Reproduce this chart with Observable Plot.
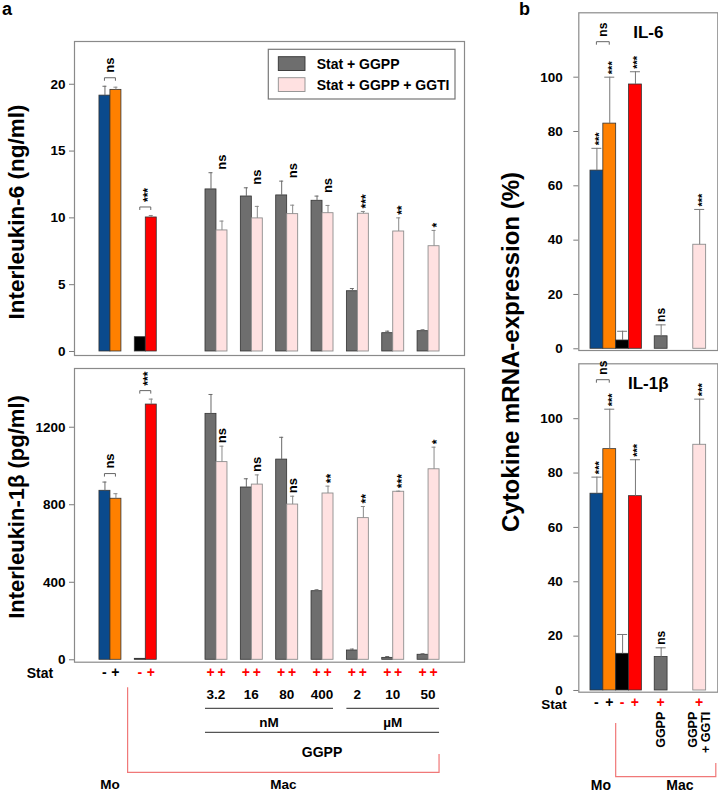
<!DOCTYPE html>
<html>
<head>
<meta charset="utf-8">
<script src="https://cdn.jsdelivr.net/npm/d3@7"></script>
<script src="https://cdn.jsdelivr.net/npm/@observablehq/plot@0.6"></script>
<style>
  html, body { margin: 0; padding: 0; background: #fff; }
  #fig { position: relative; width: 718px; height: 793px; overflow: hidden; font-family: "Liberation Sans", Arial, Helvetica, sans-serif; }
  #fig g[aria-label="y-axis"] line, #fig g[aria-label="y-axis tick"] path { stroke: #7a7a7a; }
</style>
</head>
<body>
<div id="fig"></div>
<script>
// ---------------- DATA : panel a ----------------
const aGroups = ["Mo", "Mac", "3.2", "16", "80", "400", "2", "10", "50"];
const aSlots  = ["Mo", "Mac", " ", "3.2", "16", "80", "400", "2", "10", "50"];
const nMGroups = ["3.2", "16", "80", "400"];
const uMGroups = ["2", "10", "50"];
const unitLabels = ["nM", "µM"];
const statFirst  = ["-", "-", "+", "+", "+", "+", "+", "+", "+"];
const statSecond = ["+", "+", "+", "+", "+", "+", "+", "+", "+"];
const legendLabels = ["Stat + GGPP", "Stat + GGPP + GGTI"];

// IL-6 (ng/ml): first bar of pair (Mo -, Mac -, Stat + GGPP), second bar (Mo +, Mac +, Stat + GGPP + GGTI)
const il6A    = [19.15, 1.07, 12.13, 11.60, 11.68, 11.28, 4.51, 1.37, 1.52];
const il6AErr = [0.70, 0.00, 1.25, 0.65, 1.07, 0.35, 0.20, 0.15, 0.10];
const il6B    = [19.58, 10.03, 9.06, 9.96, 10.28, 10.35, 10.31, 8.98, 7.88];
const il6BErr = [0.20, 0.15, 0.70, 0.90, 0.67, 0.58, 0.17, 1.02, 1.18];
const il6Sig  = ["ns", "***", "ns", "ns", "ns", "ns", "***", "**", "*"];

// IL-1β (pg/ml)
const il1A    = [872, 5, 1269, 889, 1033, 354, 48, 10, 26];
const il1AErr = [45, 0, 100, 45, 115, 7, 7, 7, 5];
const il1B    = [831, 1317, 1020, 904, 801, 858, 731, 867, 983];
const il1BErr = [26, 28, 82, 50, 43, 38, 60, 3, 114];
const il1Sig  = ["ns", "***", "ns", "ns", "ns", "**", "**", "***", "*"];

// ---------------- DATA : panel b ----------------
const bBars  = ["Mo-", "Mo+", "Mac-", "Mac+", "GGPP", "GGPP+GGTI"];
const bSlots = ["Mo-", "Mo+", "Mac-", "Mac+", "gap1", "GGPP", "gap2", "gap3", "GGPP+GGTI"];
const bStat  = ["-", "+", "-", "+", "+", "+"];
const bIl6    = [65.6, 82.9, 3.05, 97.3, 4.6, 38.3];
const bIl6Err = [8.2, 17.1, 3.4, 4.7, 4.2, 13.0];
const bIl6Sig = ["***", "***", "", "***", "ns", "***"];
const bIl1    = [72.4, 88.8, 13.5, 71.5, 12.3, 90.4];
const bIl1Err = [6.1, 14.7, 7.1, 13.4, 3.4, 16.8];
const bIl1Sig = ["***", "***", "", "***", "ns", "***"];
const bPairSig = ["ns", "ns"];
const bXLabels = [["GGPP"], ["GGPP", "+ GGTI"]];

const condColors = {"Mo-": "#0a4a8c", "Mo+": "#ff8000", "Mac-": "#000000", "Mac+": "#ff0000", "GGPP": "#6e6e6e", "GGPP+GGTI": "#ffe1e1"};

// ---------------- helpers ----------------
const FONT = '"Liberation Sans", Arial, Helvetica, sans-serif';
const fig = document.getElementById("fig");
const colorScale = {domain: Object.keys(condColors), range: Object.values(condColors)};
const baseStyle = {fontFamily: FONT, fontSize: "13.5px", fontWeight: "bold", color: "#000", background: "transparent", overflow: "visible"};
const RED = "#ff0000", BRACKET_RED = "#f07878";

function place(svg, left, top) {
  svg.style.position = "absolute";
  svg.style.left = left + "px";
  svg.style.top = top + "px";
  fig.appendChild(svg);
  return svg;
}
function scalesOf(plot) {
  const X = plot.scale("x"), Y = plot.scale("y");
  const band = d3.scaleBand(X.domain, X.range)
    .paddingInner(X.paddingInner ?? 0).paddingOuter(X.paddingOuter ?? 0)
    .align(X.align ?? 0.5).round(!!X.round);
  const lin = d3.scaleLinear(Y.domain, Y.range);
  return {
    x: typeof X.apply === "function" ? v => X.apply(v) : v => band(v),
    bw: X.bandwidth ?? band.bandwidth(),
    y: typeof Y.apply === "function" ? v => Y.apply(v) : v => lin(v),
    bottom: Math.max(...Y.range)
  };
}
function addText(g, x, y, str, o = {}) {
  const t = g.append("text").attr("x", x).attr("y", y).text(str)
    .attr("text-anchor", o.anchor ?? "middle")
    .attr("dominant-baseline", "central")
    .attr("font-size", o.size ?? 13.5)
    .attr("font-weight", "bold")
    .attr("fill", o.fill ?? "#000");
  if (o.rotate) t.attr("transform", `rotate(${o.rotate},${x},${y})`);
  return t;
}
function addPath(g, d, stroke, w = 1) {
  g.append("path").attr("d", d).attr("fill", "none").attr("stroke", stroke).attr("stroke-width", w);
}
function sigBracket(g, xa, xb, y, label, size) {
  addPath(g, `M${xa},${y + 3}V${y}H${xb}V${y + 3}`, "#666", 1);
  const star = label.includes("*");
  addText(g, (xa + xb) / 2 + (star ? 3 : 0), y - 5, label, {rotate: -90, anchor: "start", size});
}

// ---------------- panel a ----------------
const A_W = 480, A_ML = 74, A_MR = 16, A_PI = 0.3785, A_PO = 0.706;

function makeRows(A, EA, B, EB, S) {
  return aGroups.map((g, i) => ({
    g, a: A[i], ea: EA[i], b: B[i], eb: EB[i], sig: S[i], sa: statFirst[i], sb: statSecond[i],
    ca: g === "Mo" ? "Mo-" : g === "Mac" ? "Mac-" : "GGPP",
    cb: g === "Mo" ? "Mo+" : g === "Mac" ? "Mac+" : "GGPP+GGTI",
    pair: g === "Mo" || g === "Mac"
  }));
}

function panelA(cfg) {
  const {rows, left, top, height, mt, mb, yDomain, yTicks, refAll, annotate, legend} = cfg;
  const step = (A_W - A_ML - A_MR) / (aSlots.length - A_PI + 2 * A_PO);
  const bw = step * (1 - A_PI), q = bw / 4;
  const errA = rows.filter(d => d.ea > 0), errB = rows.filter(d => d.eb > 0);
  const conc = rows.filter(d => !d.pair);
  const ref = refAll ? d => Math.max(d.a + d.ea, d.b + d.eb) : d => d.b + d.eb;
  const isStar = d => d.sig.includes("*");
  const plot = Plot.plot({
    width: A_W, height, marginLeft: A_ML, marginRight: A_MR, marginTop: mt, marginBottom: mb,
    style: baseStyle,
    x: {type: "band", domain: aSlots, paddingInner: A_PI, paddingOuter: A_PO, round: false, axis: null},
    y: {domain: yDomain, ticks: yTicks, tickSize: 5, tickPadding: 4, tickFormat: d => `${d}`, label: null},
    color: colorScale,
    marks: [
      Plot.barY(rows, {x: "g", y: "a", fill: "ca", stroke: "#333", strokeWidth: 0.8, insetRight: 2 * q}),
      Plot.barY(rows.filter(d => d.pair), {x: "g", y: "b", fill: "cb", stroke: "#333", strokeWidth: 0.8, insetLeft: 2 * q}),
      Plot.barY(conc, {x: "g", y: "b", fill: "cb", stroke: "#8e8e8e", strokeWidth: 0.9, insetLeft: 2 * q}),
      Plot.ruleX(errA, {x: "g", y1: "a", y2: d => d.a + d.ea, dx: -q, stroke: "#6a6a6a"}),
      Plot.tickY(errA, {x: "g", y: d => d.a + d.ea, insetLeft: q - 2, insetRight: 3 * q - 2, stroke: "#6a6a6a"}),
      Plot.ruleX(errB, {x: "g", y1: "b", y2: d => d.b + d.eb, dx: q, stroke: "#8a8a8a"}),
      Plot.tickY(errB, {x: "g", y: d => d.b + d.eb, insetLeft: 3 * q - 2, insetRight: q - 2, stroke: "#8a8a8a"}),
      Plot.text(conc.filter(d => !isStar(d)), {x: "g", y: ref, text: "sig", rotate: -90, textAnchor: "start", lineAnchor: "middle", dx: q, dy: -3, fontSize: 13}),
      Plot.text(conc.filter(isStar), {x: "g", y: ref, text: "sig", rotate: -90, textAnchor: "start", lineAnchor: "middle", dx: q + 3, dy: -3, fontSize: 12}),
      Plot.frame({stroke: "#8a8a8a", strokeWidth: 1.2})
    ]
  });
  place(plot, left, top);
  const s = scalesOf(plot);
  const g = d3.select(plot).append("g").attr("font-family", FONT);
  // significance brackets for the Mo and Mac pairs
  rows.filter(d => d.pair).forEach(d => {
    const x0 = s.x(d.g), yr = s.y(Math.max(d.a + d.ea, d.b + d.eb));
    sigBracket(g, x0 + q, x0 + 3 * q, yr - 8, d.sig, d.sig.includes("*") ? 12 : 13);
  });
  if (legend) {
    const bx = 268.3, by = 49.3;
    g.append("rect").attr("x", bx).attr("y", by).attr("width", 186.7).attr("height", 49.7)
      .attr("fill", "#fff").attr("stroke", "#777").attr("stroke-width", 1.2);
    [["GGPP", "#333"], ["GGPP+GGTI", "#8e8e8e"]].forEach(([c, st], i) => {
      g.append("rect").attr("x", bx + 10).attr("y", by + 7.4 + i * 21).attr("width", 26.7).attr("height", 13.8)
        .attr("fill", condColors[c]).attr("stroke", st).attr("stroke-width", 0.9);
      addText(g, bx + 48.4, by + 15 + i * 20.7, legendLabels[i], {anchor: "start", size: 14});
    });
  }
  if (annotate) {
    const F = s.bottom;
    addText(g, 40, F + 11, "Stat", {size: 14});
    rows.forEach(d => {
      const x0 = s.x(d.g);
      const col = d.g === "Mo" ? "#000" : RED;
      addText(g, x0 + q, F + 10.5, d.sa, {fill: col, size: 14});
      addText(g, x0 + 3 * q, F + 10.5, d.sb, {fill: col, size: 14});
      if (!d.pair) addText(g, x0 + 2 * q, F + 32.3, d.g, {size: 13.5});
    });
    [nMGroups, uMGroups].forEach((grp, i) => {
      const x1 = s.x(grp[0]), x2 = s.x(grp[grp.length - 1]) + s.bw;
      addPath(g, `M${x1},${F + 46.6}H${x2}`, "#555", 1.2);
      addText(g, (x1 + x2) / 2, F + 60.5, unitLabels[i], {size: 13.5});
    });
    const gx1 = s.x(nMGroups[0]), gx2 = s.x(uMGroups[uMGroups.length - 1]) + s.bw;
    addPath(g, `M${gx1},${F + 70.6}H${gx2}`, "#555", 1.2);
    addText(g, (gx1 + gx2) / 2, F + 90, "GGPP", {size: 14});
    const bxL = (s.x("Mo") + s.bw + s.x("Mac")) / 2;
    addPath(g, `M${bxL},${F + 25.6}V${F + 110.6}H${gx2}V${F + 92.3}`, BRACKET_RED, 1.2);
    addText(g, s.x("Mo") + 2 * q, F + 122.5, "Mo", {size: 13.5});
    addText(g, (bxL + gx2) / 2, F + 122.5, "Mac", {size: 13.5});
  }
  return plot;
}

panelA({rows: makeRows(il6A, il6AErr, il6B, il6BErr, il6Sig), left: 0, top: 0, height: 360, mt: 41, mb: 5,
        yDomain: [-0.3, 23.2], yTicks: [0, 5, 10, 15, 20], refAll: true, legend: true});
panelA({rows: makeRows(il1A, il1AErr, il1B, il1BErr, il1Sig), left: 0, top: 360, height: 433, mt: 8, mb: 131.3,
        yDomain: [-12.4, 1503], yTicks: [0, 400, 800, 1200], refAll: false, annotate: true});

// ---------------- panel b ----------------
const B_W = 228, B_ML = 88.3, B_MR = 0.7, B_PO = 0.909;

function panelB(cfg) {
  const {vals, errs, sigs, pairSig, left, top, height, mt, mb, yDomain, title, pairLift, annotate} = cfg;
  const rows = bBars.map((k, i) => ({k, v: vals[i], e: errs[i], sig: sigs[i], st: bStat[i]}));
  const step = (B_W - B_ML - B_MR) / (bSlots.length + 2 * B_PO), h = step / 2;
  const plot = Plot.plot({
    width: B_W, height, marginLeft: B_ML, marginRight: B_MR, marginTop: mt, marginBottom: mb,
    style: baseStyle,
    x: {type: "band", domain: bSlots, paddingInner: 0, paddingOuter: B_PO, round: false, axis: null},
    y: {domain: yDomain, ticks: [0, 20, 40, 60, 80, 100], tickSize: 5, tickPadding: 11, tickFormat: d => `${d}`, label: null},
    color: colorScale,
    marks: [
      Plot.barY(rows.filter(d => d.k !== "GGPP+GGTI"), {x: "k", y: "v", fill: "k", stroke: "#333", strokeWidth: 0.8}),
      Plot.barY(rows.filter(d => d.k === "GGPP+GGTI"), {x: "k", y: "v", fill: "k", stroke: "#8e8e8e", strokeWidth: 0.9}),
      Plot.ruleX(rows, {x: "k", y1: "v", y2: d => d.v + d.e, stroke: "#777"}),
      Plot.tickY(rows, {x: "k", y: d => d.v + d.e, insetLeft: h - 5, insetRight: h - 5, stroke: "#777"}),
      Plot.text(rows.filter(d => d.sig === "ns"), {x: "k", y: d => d.v + d.e, text: "sig", rotate: -90, textAnchor: "start", lineAnchor: "middle", dy: -3, fontSize: 12}),
      Plot.text(rows.filter(d => d.sig.includes("*")), {x: "k", y: d => d.v + d.e, text: "sig", rotate: -90, textAnchor: "start", lineAnchor: "middle", dx: 2.5, dy: -3, fontSize: 11}),
      Plot.text([title], {text: d => d, frameAnchor: "top", dy: 13, fontSize: 17}),
      Plot.frame({stroke: "#8a8a8a", strokeWidth: 1.2})
    ]
  });
  place(plot, left, top);
  const s = scalesOf(plot);
  const g = d3.select(plot).append("g").attr("font-family", FONT);
  const mo = rows.filter(d => d.k === "Mo-" || d.k === "Mo+");
  const yr = s.y(d3.max(mo, d => d.v + d.e));
  sigBracket(g, s.x("Mo-") + h, s.x("Mo+") + h, yr - pairLift, pairSig, 12);
  if (annotate) {
    const F = s.bottom;
    addText(g, 64, F + 12.5, "Stat", {size: 13.5});
    rows.forEach(d => {
      const col = d.k.startsWith("Mo") ? "#000" : RED;
      addText(g, s.x(d.k) + h, F + 10.5, d.st, {fill: col, size: 14});
    });
    [["GGPP", bXLabels[0]], ["GGPP+GGTI", bXLabels[1]]].forEach(([k, lines]) => {
      const cx = s.x(k) + h;
      lines.forEach((ln, j) => {
        const x = cx + (j - (lines.length - 1) / 2) * 13;
        addText(g, x, F + 20, ln, {rotate: -90, anchor: "end", size: 12.5});
      });
    });
    const bxL = s.x("Mac-"), bxR = B_W - B_MR - 1.5;
    addPath(g, `M${bxL},${F + 31.3}V${F + 85}H${bxR}V${F + 71.3}`, BRACKET_RED, 1.2);
    addText(g, s.x("Mo+") - 2, F + 93.5, "Mo", {size: 14});
    addText(g, (s.x("GGPP") + s.x("GGPP+GGTI") + 2 * h) / 2, F + 93.5, "Mac", {size: 14});
  }
  return plot;
}

panelB({vals: bIl6, errs: bIl6Err, sigs: bIl6Sig, pairSig: bPairSig[0], left: 490, top: 0, height: 360, mt: 12.3, mb: 10,
        yDomain: [-0.63, 123.7], title: "IL-6", pairLift: 35});
panelB({vals: bIl1, errs: bIl1Err, sigs: bIl1Sig, pairSig: bPairSig[1], left: 490, top: 360, height: 433, mt: 3.3, mb: 101.3,
        yDomain: [-0.63, 120.2], title: "IL-1β", pairLift: 29, annotate: true});

// ---------------- figure-level labels ----------------
const ov = d3.select(fig).append("svg").attr("width", 718).attr("height", 793)
  .style("position", "absolute").style("left", "0px").style("top", "0px").style("pointer-events", "none")
  .attr("font-family", FONT);
addText(ov, 2, 9, "a", {anchor: "start", size: 18});
addText(ov, 519, 9, "b", {anchor: "start", size: 18});
addText(ov, 16, 212, "Interleukin-6 (ng/ml)", {rotate: -90, size: 22.5});
addText(ov, 16, 507, "Interleukin-1β (pg/ml)", {rotate: -90, size: 22});
addText(ov, 510, 352, "Cytokine mRNA-expression (%)", {rotate: -90, size: 24});
</script>
</body>
</html>
